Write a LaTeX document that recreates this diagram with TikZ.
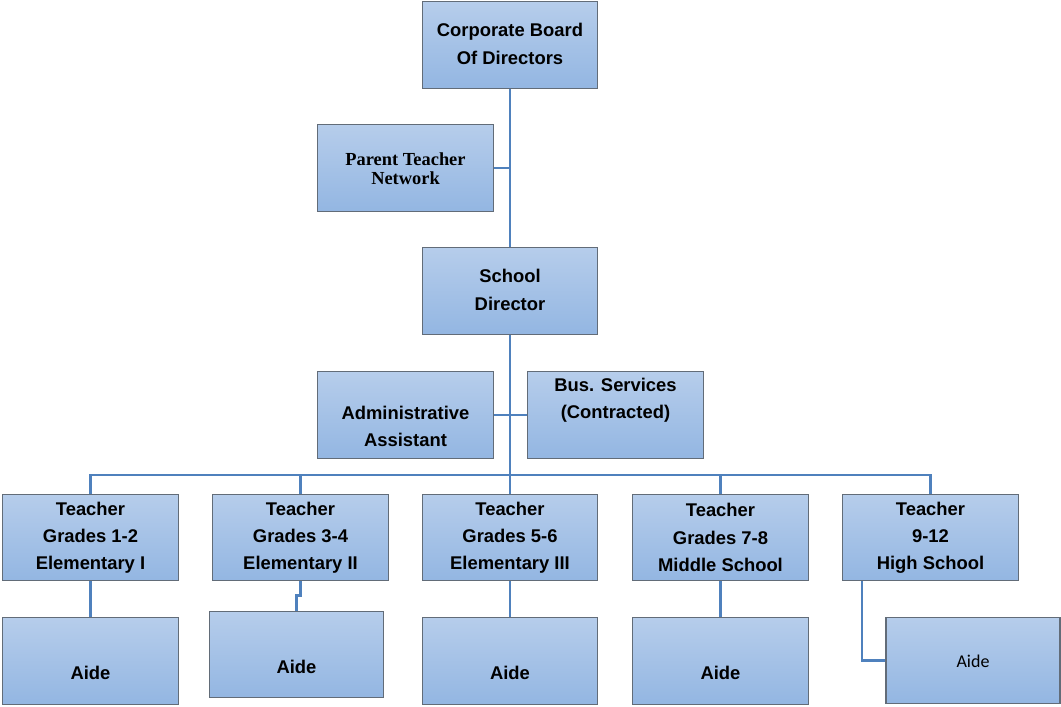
\documentclass[tikz,border=0pt]{standalone}
\usepackage{fontspec}
\setmainfont{Liberation Sans}
\newfontfamily\ptnfont{Liberation Serif}
\newfontfamily\aidefont{Carlito}
\usetikzlibrary{positioning}
\definecolor{box-top}{RGB}{182,205,235}
\definecolor{box-bottom}{RGB}{147,182,226}
\definecolor{box-border}{RGB}{98,108,120}
\definecolor{link-blue}{RGB}{79,129,189}
\newdimen\orgpx
\setlength{\orgpx}{0.75pt}
\tikzstyle{orgboxstyle}=[shape=rectangle,draw=box-border,line width=0.9pt,top color=box-top,bottom color=box-bottom,minimum width=175.5\orgpx,minimum height=86.5\orgpx,inner sep=0pt]
\tikzstyle{orgtextstyle}=[align=center,inner sep=0pt,font=\fontsize{13.8}{20.4}\selectfont\bfseries]
\tikzstyle{ptntextstyle}=[font=\ptnfont\fontsize{13.8}{14.3}\selectfont\bfseries]
\tikzstyle{aidetextstyle}=[font=\aidefont\fontsize{13.5}{16}\selectfont\mdseries]
\tikzstyle{orglinkstyle}=[draw=link-blue,line width=2.1pt]
\newcommand{\orgunit}[7]{ \draw (#2\orgpx,-#3\orgpx) node [style=orgboxstyle,#6] (#1) {}; \draw (#2\orgpx,-#4\orgpx) node [style=orgtextstyle,#7] (#1text) {#5}; }
\newcommand{\orglink}[2]{ \draw [style=orglinkstyle] (#1) -- (#2); }

\begin{document}
\begin{tikzpicture}
\useasboundingbox (0,0) rectangle (1061\orgpx,-707\orgpx); %
\orgunit{board}{510}{45}{44}{Corporate Board\\Of Directors}{}{} %
\orgunit{ptn}{405.5}{168}{168.5}{Parent Teacher\\Network}{}{ptntextstyle} %
\orgunit{director}{510}{291}{290}{School\\Director}{}{} %
\orgunit{admin}{405.5}{415}{426.5}{Administrative\\Assistant}{}{} %
\orgunit{busserv}{615.5}{415}{400}{Bus. Services\\(Contracted)}{}{} %
\orgunit{tone}{90.5}{537.5}{537.5}{Teacher\\Grades 1-2\\Elementary I}{}{} %
\orgunit{ttwo}{300.5}{537.5}{537.5}{Teacher\\Grades 3-4\\Elementary II}{}{} %
\orgunit{tthree}{510}{537.5}{537.5}{Teacher\\Grades 5-6\\Elementary III}{}{} %
\orgunit{tfour}{720.5}{537.5}{537.5}{Teacher\\Grades 7-8\\Middle School}{}{} %
\orgunit{tfive}{930.5}{537.5}{537.5}{Teacher\\9-12\\High School}{}{} %
\orgunit{aone}{90.5}{661}{673}{Aide}{}{} %
\orgunit{atwo}{296.5}{654.5}{667}{Aide}{minimum width=173.5\orgpx}{} %
\orgunit{athree}{510}{661}{673}{Aide}{}{} %
\orgunit{afour}{720.5}{661}{673}{Aide}{}{} %
\orgunit{afive}{973}{660.5}{661}{Aide}{minimum width=174\orgpx}{aidetextstyle} %
\coordinate (busbar) at (510\orgpx,-475\orgpx); %
\coordinate (tfivedrop) at (862\orgpx,-581\orgpx); %
\orglink{board.south}{director.north} %
\orglink{ptn.east}{ptn.east -| board.south} %
\orglink{admin.east}{busserv.west} %
\orglink{director.south}{busbar} %
\draw [style=orglinkstyle] (tone.north) |- (busbar) -| (tfive.north); %
\orglink{ttwo.north}{ttwo.north |- busbar} %
\orglink{tthree.north}{tthree.north |- busbar} %
\orglink{tfour.north}{tfour.north |- busbar} %
\orglink{tone.south}{aone.north} %
\draw [style=orglinkstyle] (ttwo.south) -- ++(0,-14\orgpx) -| (atwo.north); %
\orglink{tthree.south}{athree.north} %
\orglink{tfour.south}{afour.north} %
\draw [style=orglinkstyle] (tfivedrop) |- (afive.west); %
\end{tikzpicture}
\end{document}
